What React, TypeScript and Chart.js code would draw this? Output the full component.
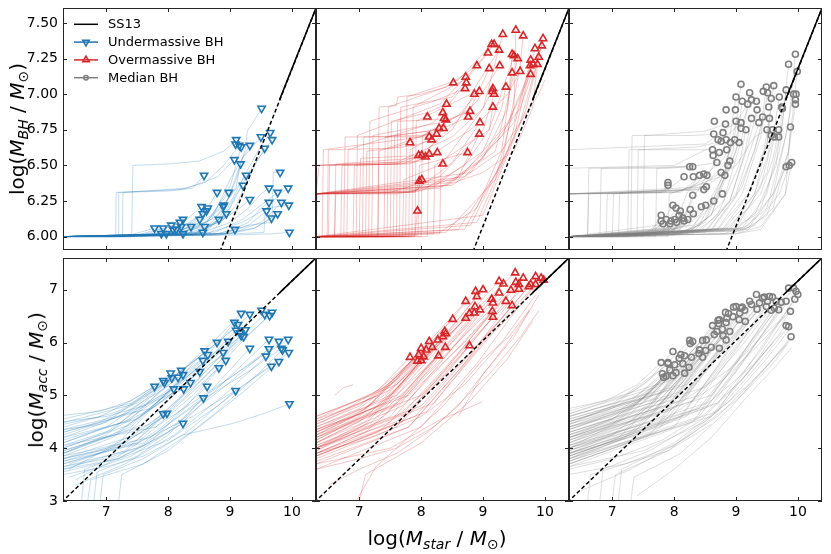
import React, { useEffect, useRef } from "react";
import { Chart, registerables } from "chart.js";
Chart.register(...registerables);

// ---------- axes ----------
const X_TICKS = [7, 8, 9, 10];
const BH_TICKS = [6.0, 6.25, 6.5, 6.75, 7.0, 7.25, 7.5];
const ACC_TICKS = [3, 4, 5, 6, 7];
const X_MIN = 6.3, X_MAX = 10.39;
const BH_MIN = 5.906, BH_MAX = 7.605;
const ACC_MIN = 3.0, ACC_MAX = 7.6;

// ---------- SS13 relation (x,y pairs) ----------
const SS13_BH_DASHED = [8.76, 5.81, 10.45, 7.67];
const SS13_BH_SOLID = [9.8, 6.96, 10.45, 7.67];
const SS13_ACC_DASHED = [6.2, 2.89, 10.45, 7.67];
const SS13_ACC_SOLID = [9.8, 6.94, 10.45, 7.67];

const LEGEND_LABELS = ["SS13", "Undermassive BH", "Overmassive BH", "Median BH"];

const BLUE = "#1f77b4", RED = "#d62728", GRAY = "#7f7f7f";
const BLUE_T = "rgba(31,119,180,0.33)", RED_T = "rgba(214,39,40,0.33)", GRAY_T = "rgba(127,127,127,0.33)";

// ---------- markers (x,y pairs) ----------
const BLUE_BH_PTS = [9.51,6.90, 9.10,6.68, 9.15,6.64, 9.09,6.65, 9.18,6.63, 9.32,6.64, 9.50,6.70, 9.65,6.73, 9.68,6.68, 9.56,6.62,
  9.07,6.54, 9.17,6.51, 8.58,6.43, 9.26,6.43, 9.81,6.45, 9.21,6.36, 8.79,6.31, 8.98,6.31, 9.63,6.34, 9.94,6.34,
  9.77,6.31, 9.32,6.26, 8.90,6.22, 9.63,6.24, 9.83,6.24, 9.95,6.22, 8.94,6.16, 8.82,6.12, 9.59,6.18, 9.67,6.13,
  9.77,6.16, 9.08,6.05, 9.96,6.03, 8.64,6.20, 8.62,6.18, 8.56,6.16, 8.51,6.12, 8.59,6.07, 8.56,6.03, 8.24,6.12,
  8.24,6.02, 8.37,6.07, 7.78,6.06, 7.92,6.06, 8.05,6.08, 7.89,6.02, 7.97,6.02, 8.08,6.05, 8.19,6.10, 8.21,6.07,
  8.13,6.05, 8.54,6.21, 8.89,6.21];
const BLUE_ACC_PTS = [9.18,6.55, 9.32,6.53, 9.51,6.61, 9.56,6.53, 9.68,6.57, 9.64,6.51, 9.07,6.38, 9.13,6.34, 9.10,6.23, 9.25,6.24,
  9.18,6.13, 9.16,6.18, 9.22,6.11, 8.79,6.00, 8.97,6.02, 9.63,6.06, 9.79,6.02, 9.94,6.06, 9.32,5.89, 9.63,5.88,
  9.83,5.89, 9.85,5.86, 9.95,5.81, 8.59,5.84, 8.64,5.77, 8.89,5.81, 9.58,5.74, 9.79,5.64, 9.67,5.55, 8.93,5.66,
  8.56,5.66, 8.82,5.52, 8.51,5.45, 8.21,5.47, 8.04,5.42, 8.24,5.39, 8.06,5.33, 8.16,5.34, 7.92,5.28, 7.94,5.24,
  7.78,5.17, 8.36,5.24, 8.09,5.12, 8.25,5.12, 8.63,5.17, 9.09,5.09, 8.57,4.95, 9.96,4.84, 7.92,4.65, 7.98,4.66,
  8.24,4.47];
const RED_BH_PTS = [9.53,7.45, 9.32,7.42, 9.65,7.41, 9.97,7.39, 9.18,7.35, 9.14,7.35, 9.26,7.31, 9.08,7.29, 9.84,7.32, 9.95,7.34,
  9.47,7.28, 9.50,7.27, 9.56,7.25, 9.90,7.26, 9.77,7.24, 9.81,7.21, 9.76,7.20, 9.88,7.21, 8.90,7.20, 9.10,7.18,
  9.27,7.20, 9.47,7.15, 9.60,7.16, 9.77,7.14, 8.72,7.12, 8.73,7.08, 8.71,7.04, 8.52,7.08, 9.37,7.05, 9.16,7.04,
  9.15,7.02, 9.18,7.00, 8.94,7.02, 8.86,7.00, 9.16,6.91, 8.41,6.93, 8.10,6.84, 8.35,6.87, 8.37,6.83, 8.40,6.82,
  8.79,6.88, 8.76,6.84, 8.95,6.80, 8.29,6.76, 8.36,6.76, 8.13,6.70, 8.17,6.68, 8.25,6.72, 8.94,6.72, 7.82,6.66,
  7.96,6.57, 8.01,6.57, 8.07,6.56, 8.13,6.58, 8.26,6.59, 8.35,6.51, 8.75,6.59, 7.97,6.39, 8.01,6.40, 7.94,6.18];
const RED_ACC_PTS = [9.52,7.32, 9.65,7.22, 9.85,7.25, 9.94,7.22, 9.98,7.18, 9.26,7.16, 9.33,7.11, 9.53,7.14, 9.58,7.10, 9.77,7.10,
  9.74,7.06, 9.85,7.10, 9.45,6.99, 9.58,7.01, 8.88,6.97, 9.00,7.00, 8.90,6.87, 9.26,6.94, 9.14,6.82, 9.16,6.75,
  9.37,6.78, 8.72,6.78, 8.87,6.68, 8.95,6.62, 8.86,6.56, 8.78,6.55, 9.15,6.59, 9.16,6.48, 9.47,6.70, 8.72,6.46,
  8.51,6.44, 8.38,6.21, 8.35,6.11, 8.40,6.17, 8.27,6.05, 8.13,6.02, 8.18,5.91, 8.00,5.89, 8.08,5.86, 7.96,5.77,
  8.04,5.73, 7.82,5.72, 8.00,5.66, 8.28,5.75, 8.39,5.91, 8.78,5.94, 7.94,5.65];
const GRAY_BH_PTS = [9.96,7.28, 9.85,7.21, 9.99,7.16, 9.08,7.07, 9.49,7.05, 9.61,7.06, 9.81,7.03, 9.22,7.01, 9.44,7.02, 9.51,7.01,
  9.93,7.00, 9.97,7.00, 9.00,6.98, 9.25,6.96, 9.57,6.97, 9.70,6.98, 9.10,6.95, 9.33,6.95, 9.19,6.93, 9.96,6.96,
  9.96,6.93, 9.53,6.91, 9.74,6.91, 8.84,6.89, 8.99,6.89, 9.34,6.89, 9.75,6.90, 9.43,6.84, 9.54,6.83, 9.25,6.83,
  8.65,6.81, 9.00,6.81, 9.08,6.80, 8.83,6.79, 9.37,6.80, 9.88,6.77, 9.08,6.76, 9.16,6.75, 9.50,6.75, 9.59,6.75,
  9.69,6.75, 8.64,6.72, 8.79,6.73, 9.57,6.71, 9.62,6.70, 9.69,6.70, 8.71,6.68, 8.76,6.67, 8.84,6.68, 8.98,6.68,
  9.05,6.66, 8.91,6.66, 8.62,6.61, 8.85,6.61, 8.63,6.57, 8.73,6.59, 8.90,6.53, 8.69,6.52, 8.87,6.50, 8.25,6.49,
  8.30,6.49, 8.76,6.45, 8.82,6.43, 8.16,6.42, 8.31,6.42, 8.41,6.43, 8.48,6.44, 8.53,6.43, 7.90,6.38, 7.90,6.36,
  8.52,6.35, 8.48,6.33, 8.30,6.29, 8.78,6.30, 8.64,6.25, 8.51,6.22, 8.44,6.21, 7.98,6.22, 8.03,6.20, 8.10,6.18,
  8.26,6.19, 7.79,6.15, 8.08,6.15, 8.14,6.13, 8.31,6.16, 7.79,6.11, 7.87,6.12, 7.95,6.11, 8.01,6.12, 8.04,6.10,
  8.16,6.11, 8.22,6.12, 7.82,6.09, 7.93,6.09, 9.81,6.49, 9.86,6.50, 9.90,6.52];
const GRAY_ACC_PTS = [9.85,7.03, 9.93,7.03, 9.97,6.97, 10.00,6.91, 9.95,6.82, 9.33,6.91, 9.46,6.86, 9.54,6.87, 9.59,6.86, 9.51,6.78,
  9.65,6.78, 9.73,6.76, 9.81,6.78, 9.22,6.78, 9.25,6.72, 9.38,6.75, 9.49,6.68, 9.62,6.65, 9.69,6.62, 9.57,6.61,
  9.00,6.68, 9.08,6.65, 9.14,6.61, 9.06,6.56, 9.34,6.63, 9.88,6.59, 8.83,6.57, 8.88,6.55, 8.95,6.49, 8.85,6.46,
  8.73,6.43, 9.05,6.43, 9.15,6.40, 8.84,6.38, 8.72,6.36, 8.62,6.32, 9.81,6.32, 9.85,6.30, 9.89,6.11, 8.78,6.25,
  8.69,6.21, 8.90,6.21, 8.65,6.15, 8.79,6.13, 8.84,6.05, 8.25,6.04, 8.30,6.02, 8.46,6.04, 8.52,6.05, 8.26,5.98,
  8.60,5.91, 8.73,5.89, 8.41,5.86, 8.51,5.85, 7.98,5.83, 8.40,5.79, 8.46,5.72, 8.17,5.75, 8.28,5.72, 8.08,5.70,
  8.11,5.77, 7.79,5.62, 7.90,5.60, 8.01,5.58, 8.14,5.60, 8.24,5.53, 7.93,5.48, 8.03,5.43, 7.81,5.41, 7.83,5.34,
  8.17,5.42, 7.98,5.37, 7.87,5.36, 8.71,6.42, 9.43,6.84, 8.96,6.67, 9.10,6.67, 7.90,5.62];

// ---------- growth tracks (x,y pairs) ----------
const BLUE_BH_TRACKS = [
  [6.3,6.0, 7.41,6.0, 7.43,6.5, 8.0,6.51, 8.5,6.53, 8.9,6.6, 9.1,6.68],
  [6.3,6.0, 7.19,6.0, 7.2,6.31, 8.0,6.32, 8.4,6.34, 8.58,6.43],
  [6.3,6.0, 7.15,6.0, 7.16,6.31, 8.2,6.33, 8.6,6.38, 8.9,6.5, 9.15,6.64],
  [6.3,6.0, 7.26,6.0, 7.27,6.31, 8.3,6.34, 8.8,6.42, 9.07,6.54],
  [6.3,6.0, 8.2,6.01, 8.6,6.05, 8.9,6.2, 9.1,6.4, 9.25,6.62, 9.28,6.74, 9.51,6.9],
  [6.3,6.0, 8.4,6.01, 8.8,6.1, 9.0,6.3, 9.2,6.55, 9.5,6.7],
  [6.3,6.0, 8.5,6.02, 8.9,6.15, 9.2,6.4, 9.45,6.6, 9.65,6.73],
  [6.3,6.0, 8.6,6.03, 9.0,6.2, 9.3,6.45, 9.68,6.68],
  [6.3,6.0, 8.7,6.03, 9.1,6.22, 9.4,6.5, 9.56,6.62],
  [6.3,6.0, 8.0,6.01, 8.6,6.08, 9.0,6.35, 9.18,6.63],
  [6.3,6.0, 8.2,6.02, 8.7,6.12, 9.0,6.4, 9.32,6.64],
  [6.3,6.0, 8.3,6.02, 8.8,6.15, 9.1,6.35, 9.17,6.51],
  [6.3,6.0, 8.0,6.02, 8.6,6.1, 9.0,6.28, 9.26,6.43],
  [6.3,6.0, 8.4,6.02, 8.9,6.12, 9.1,6.3, 9.21,6.36],
  [6.3,6.0, 8.1,6.02, 8.5,6.1, 8.79,6.31],
  [6.3,6.0, 8.2,6.02, 8.7,6.15, 8.98,6.31],
  [6.3,6.0, 8.5,6.02, 9.0,6.1, 9.3,6.2, 9.5,6.3, 9.63,6.34],
  [6.3,6.0, 8.8,6.02, 9.3,6.08, 9.68,6.1, 9.7,6.45, 9.81,6.45],
  [6.3,6.0, 8.6,6.02, 9.2,6.1, 9.6,6.2, 9.8,6.3, 9.94,6.34],
  [6.3,6.0, 8.7,6.02, 9.2,6.12, 9.5,6.22, 9.77,6.31],
  [6.3,6.0, 8.3,6.02, 8.8,6.1, 9.1,6.18, 9.32,6.26],
  [6.3,6.0, 8.2,6.02, 8.6,6.1, 8.9,6.22],
  [6.3,6.0, 8.9,6.02, 9.3,6.1, 9.5,6.2, 9.63,6.24],
  [6.3,6.0, 9.0,6.02, 9.5,6.1, 9.7,6.18, 9.83,6.24],
  [6.3,6.0, 9.1,6.02, 9.55,6.03, 9.57,6.2, 9.95,6.22],
  [6.3,6.0, 8.5,6.01, 8.94,6.16],
  [6.3,6.0, 8.4,6.01, 8.82,6.12],
  [6.3,6.0, 8.9,6.02, 9.3,6.08, 9.59,6.18],
  [6.3,6.0, 9.0,6.02, 9.4,6.06, 9.67,6.13],
  [6.3,6.0, 8.8,6.01, 9.4,6.06, 9.77,6.16],
  [6.3,6.0, 8.7,6.01, 9.08,6.05],
  [6.3,6.0, 9.0,6.01, 9.7,6.02, 9.96,6.03],
  [6.3,6.0, 8.0,6.02, 8.4,6.1, 8.64,6.2],
  [6.3,6.0, 7.9,6.02, 8.3,6.08, 8.62,6.18],
  [6.3,6.0, 8.0,6.01, 8.56,6.16],
  [6.3,6.0, 7.6,6.0, 8.2,6.04, 8.51,6.12],
  [6.3,6.0, 7.8,6.0, 8.2,6.03, 8.59,6.07],
  [6.3,6.0, 7.5,6.0, 7.9,6.02, 8.24,6.12],
  [6.3,6.0, 7.3,6.0, 7.78,6.06],
  [6.3,6.0, 7.4,6.0, 7.92,6.06],
  [6.3,6.0, 7.6,6.01, 8.05,6.08],
  [6.3,6.0, 7.7,6.01, 8.19,6.1],
  [6.3,6.0, 7.9,6.01, 8.37,6.07],
  [6.3,6.0, 8.0,6.01, 8.54,6.21],
];
const BLUE_ACC_TRACKS = [
  [6.3,4.62, 6.9,4.7, 7.4,4.9, 7.78,5.17],
  [6.3,4.45, 6.9,4.6, 7.4,4.9, 7.92,5.28],
  [6.3,4.3, 6.9,4.5, 7.4,4.8, 7.94,5.24],
  [6.3,4.2, 7.0,4.5, 7.5,4.9, 8.04,5.42],
  [6.3,4.1, 7.0,4.4, 7.5,4.8, 8.06,5.33],
  [6.3,4.0, 7.0,4.3, 7.6,4.8, 8.16,5.34],
  [6.3,3.9, 7.0,4.25, 7.6,4.85, 8.21,5.47],
  [6.3,4.35, 6.9,4.45, 7.5,4.75, 8.09,5.12],
  [6.3,3.8, 7.0,4.0, 7.5,4.3, 7.92,4.65],
  [6.3,3.7, 7.0,3.95, 7.5,4.25, 7.98,4.66],
  [6.3,3.65, 7.0,3.8, 7.6,4.05, 8.24,4.47],
  [6.3,4.5, 7.0,4.6, 7.6,4.8, 8.25,5.12],
  [6.3,4.05, 7.1,4.35, 7.8,4.8, 8.36,5.24],
  [6.3,3.95, 7.1,4.25, 7.8,4.8, 8.51,5.45],
  [6.3,3.85, 7.1,4.2, 7.8,4.85, 8.56,5.66],
  [6.4,3.6, 7.2,4.1, 7.9,4.95, 8.59,5.84],
  [6.3,4.25, 7.2,4.6, 7.9,5.1, 8.64,5.77],
  [6.6,3.0, 6.65,3.6, 7.2,3.85, 7.9,4.4, 8.63,5.17],
  [6.8,3.0, 6.85,3.55, 7.5,3.85, 8.0,4.25, 8.57,4.95],
  [6.3,3.75, 7.3,4.1, 8.0,4.65, 8.82,5.52],
  [6.3,3.6, 7.3,3.95, 8.0,4.7, 8.89,5.81],
  [6.3,4.4, 7.2,4.7, 8.0,5.25, 8.79,6.00],
  [6.5,3.4, 7.0,3.7, 7.7,4.1, 8.3,4.8, 8.93,5.66],
  [6.3,4.15, 7.3,4.5, 8.1,5.15, 8.97,6.02],
  [6.9,3.0, 6.95,3.5, 7.6,3.8, 8.3,4.3, 9.09,5.09],
  [6.3,3.9, 7.4,4.4, 8.2,5.3, 8.7,5.85, 9.07,6.38],
  [6.3,4.55, 7.4,4.85, 8.2,5.45, 8.7,5.9, 9.13,6.34],
  [6.3,4.0, 7.4,4.45, 8.2,5.25, 8.7,5.75, 9.10,6.23],
  [6.4,3.7, 7.5,4.15, 8.3,5.0, 8.8,5.6, 9.18,6.13],
  [6.3,4.35, 7.5,4.7, 8.3,5.35, 8.8,5.8, 9.16,6.18],
  [6.3,3.8, 7.6,4.3, 8.4,5.2, 8.9,5.8, 9.25,6.24],
  [6.3,4.2, 7.5,4.55, 8.3,5.25, 8.8,5.7, 9.22,6.11],
  [6.3,4.1, 7.4,4.55, 8.2,5.45, 8.8,6.1, 9.18,6.55],
  [6.3,4.48, 7.5,4.85, 8.3,5.55, 8.9,6.1, 9.32,6.53],
  [6.3,3.9, 7.6,4.45, 8.4,5.35, 9.0,6.05, 9.50,6.61],
  [6.3,4.3, 7.7,4.75, 8.5,5.5, 9.1,6.05, 9.56,6.53],
  [6.3,3.7, 7.5,4.1, 8.4,5.0, 9.1,5.9, 9.68,6.57],
  [6.3,3.95, 7.7,4.45, 8.5,5.25, 9.1,5.95, 9.64,6.51],
  [6.3,3.55, 7.2,3.8, 8.0,4.3, 8.7,5.1, 9.32,5.89],
  [6.4,3.45, 7.4,3.85, 8.2,4.45, 8.9,5.25, 9.63,6.06],
  [6.3,3.65, 7.5,4.0, 8.3,4.6, 9.0,5.25, 9.63,5.88],
  [6.5,3.3, 7.3,3.7, 8.1,4.25, 8.9,5.0, 9.58,5.74],
  [6.3,3.8, 7.5,4.1, 8.4,4.6, 9.1,5.1, 9.67,5.55],
  [6.7,3.0, 6.75,3.4, 7.6,3.7, 8.5,4.4, 9.2,5.05, 9.79,5.64],
  [6.3,3.75, 7.6,4.1, 8.5,4.9, 9.2,5.5, 9.79,6.02],
  [6.3,3.85, 7.7,4.2, 8.6,4.95, 9.3,5.45, 9.83,5.89],
  [6.3,4.05, 7.8,4.4, 8.7,5.1, 9.4,5.65, 9.94,6.06],
  [6.3,3.6, 7.2,3.8, 8.0,4.15, 8.8,4.8, 9.4,5.35, 9.95,5.81],
  [6.3,3.5, 7.0,3.65, 7.6,3.85, 8.24,4.25, 9.05,4.47, 9.56,4.66, 9.96,4.84],
  [7.2,3.0, 7.25,3.5, 8.0,3.95, 8.8,4.7, 9.4,5.35, 9.85,5.86],
];
const RED_BH_TRACKS = [
  [6.3,6.0, 6.32,6.3, 7.6,6.3, 7.95,6.33, 8.01,6.40],
  [6.3,6.3, 7.9,6.31, 7.97,6.39],
  [6.3,6.0, 6.6,6.0, 6.62,6.3, 7.8,6.31, 8.4,6.36, 9.0,6.45, 9.5,6.6, 9.8,6.9, 9.88,7.21],
  [6.3,6.0, 7.9,6.01, 7.92,6.1, 7.94,6.18],
  [6.3,6.3, 6.35,6.5, 7.5,6.51, 7.9,6.52, 8.13,6.58],
  [6.3,6.0, 6.5,6.0, 6.52,6.5, 7.8,6.51, 8.07,6.56],
  [6.3,6.0, 6.7,6.0, 6.72,6.5, 7.7,6.51, 8.01,6.57],
  [6.3,6.0, 6.9,6.0, 6.92,6.5, 7.6,6.51, 7.96,6.57],
  [6.3,6.0, 6.48,6.0, 6.5,6.61, 7.5,6.62, 7.82,6.66],
  [6.3,6.0, 6.75,6.0, 6.77,6.7, 7.8,6.7, 8.13,6.70],
  [6.3,6.0, 7.0,6.0, 7.02,6.55, 8.0,6.57, 8.26,6.59],
  [6.3,6.0, 7.1,6.0, 7.12,6.6, 7.9,6.64, 8.17,6.68],
  [6.3,6.0, 7.05,6.0, 7.07,6.7, 8.0,6.71, 8.25,6.72],
  [6.3,6.0, 7.3,6.0, 7.32,6.91, 7.6,6.92, 7.62,6.98, 8.0,7.0, 8.4,7.05, 8.52,7.08],
  [6.3,6.0, 7.4,6.0, 7.42,6.7, 8.1,6.74, 8.35,6.76],
  [6.3,6.0, 7.5,6.0, 7.52,6.81, 8.1,6.87, 8.41,6.93],
  [6.3,6.0, 7.55,6.0, 7.57,6.71, 8.1,6.74, 8.29,6.76],
  [6.3,6.0, 7.6,6.0, 7.62,6.81, 8.2,6.82, 8.37,6.83],
  [6.3,6.0, 7.7,6.0, 7.72,6.4, 8.0,6.45, 8.35,6.51],
  [6.3,6.0, 7.8,6.0, 7.82,6.61, 8.3,6.72, 8.4,6.82],
  [6.3,6.0, 7.95,6.01, 7.97,6.5, 8.4,6.55, 8.75,6.59],
  [6.3,6.0, 7.3,6.0, 7.32,6.6, 8.3,6.75, 8.76,6.84],
  [6.3,6.0, 7.2,6.0, 7.22,6.71, 8.3,6.8, 8.79,6.88],
  [6.3,6.0, 7.15,6.0, 7.17,6.81, 8.2,6.95, 8.71,7.04],
  [6.3,6.0, 6.8,6.0, 6.82,6.61, 8.2,6.8, 8.73,7.08],
  [6.3,6.0, 6.95,6.0, 6.97,6.71, 8.3,6.93, 8.72,7.12],
  [6.3,6.0, 7.45,6.0, 7.47,6.91, 8.4,7.05, 8.90,7.2],
  [6.3,6.3, 7.8,6.31, 8.6,6.42, 8.94,6.72],
  [6.3,6.3, 7.9,6.32, 8.5,6.52, 8.95,6.80],
  [6.3,6.0, 6.6,6.0, 6.62,6.51, 7.9,6.55, 8.5,6.75, 8.86,7.0],
  [6.3,6.0, 6.4,6.0, 6.42,6.61, 8.0,6.7, 8.6,6.85, 8.94,7.02],
  [6.3,6.0, 7.65,6.0, 7.67,6.91, 8.5,6.98, 9.08,7.29],
  [6.3,6.0, 7.75,6.0, 7.77,6.98, 8.6,7.1, 9.14,7.35],
  [6.3,6.0, 7.85,6.0, 7.87,6.91, 8.7,7.1, 9.18,7.35],
  [6.3,6.0, 7.9,6.0, 7.92,6.81, 8.8,7.0, 9.26,7.31],
  [6.3,6.0, 8.0,6.0, 8.02,6.71, 8.8,6.9, 9.10,7.18],
  [6.3,6.5, 7.6,6.52, 8.5,6.7, 9.0,6.9, 9.16,7.04],
  [6.3,6.3, 7.5,6.31, 8.3,6.42, 9.0,6.75, 9.18,7.0],
  [6.3,6.3, 8.0,6.32, 8.7,6.5, 9.1,6.75, 9.16,6.91],
  [6.3,6.0, 8.1,6.0, 8.12,6.62, 8.9,6.95, 9.27,7.2],
  [6.3,6.0, 8.3,6.02, 8.32,6.5, 9.0,6.9, 9.32,7.42],
  [6.3,6.3, 8.2,6.35, 9.0,6.6, 9.3,6.9, 9.37,7.05],
  [6.3,6.0, 8.3,6.03, 8.9,6.2, 9.3,6.6, 9.47,7.15],
  [6.3,6.3, 8.3,6.34, 9.0,6.55, 9.4,6.9, 9.47,7.28],
  [6.3,6.0, 8.2,6.02, 8.22,6.5, 9.1,6.75, 9.5,7.27],
  [6.3,6.0, 8.4,6.03, 9.2,6.4, 9.5,6.9, 9.53,7.45],
  [6.3,6.3, 8.4,6.36, 9.2,6.6, 9.56,7.25],
  [6.3,6.5, 8.0,6.53, 8.8,6.75, 9.4,7.0, 9.60,7.16],
  [6.3,6.0, 8.6,6.05, 9.3,6.5, 9.6,7.2, 9.65,7.41],
  [6.3,6.3, 8.5,6.38, 9.3,6.7, 9.77,7.14],
  [6.3,6.0, 8.7,6.05, 9.4,6.6, 9.76,7.2],
  [6.3,6.3, 8.6,6.4, 9.4,6.8, 9.81,7.21],
  [6.3,6.0, 8.8,6.08, 9.5,6.7, 9.84,7.32],
  [6.3,6.3, 8.7,6.42, 9.5,6.8, 9.77,7.24],
  [6.3,6.0, 8.9,6.1, 9.6,6.8, 9.9,7.26],
  [6.3,6.3, 8.8,6.45, 9.6,6.9, 9.95,7.34],
  [6.3,6.0, 9.0,6.15, 9.7,6.9, 9.97,7.39],
  [6.3,6.3, 8.5,6.36, 9.3,6.6, 9.9,7.0, 10.0,7.1],
];
const RED_ACC_TRACKS = [
  [6.3,4.55, 6.8,4.75, 7.3,5.1, 7.82,5.72],
  [6.3,4.35, 6.9,4.6, 7.4,5.0, 7.94,5.65],
  [6.3,4.45, 7.0,4.8, 7.5,5.25, 7.96,5.77],
  [6.3,4.25, 7.0,4.65, 7.6,5.3, 8.0,5.89],
  [6.3,4.1, 7.0,4.5, 7.6,5.1, 8.04,5.73],
  [6.3,4.4, 7.0,4.75, 7.6,5.3, 8.08,5.86],
  [6.3,4.2, 7.0,4.6, 7.6,5.35, 8.13,6.02],
  [6.3,4.0, 7.1,4.5, 7.7,5.25, 8.18,5.91],
  [6.3,4.3, 7.1,4.75, 7.7,5.4, 8.27,6.05],
  [6.3,3.95, 7.1,4.45, 7.8,5.35, 8.35,6.11],
  [6.3,4.5, 7.2,4.95, 7.8,5.55, 8.38,6.21],
  [6.3,4.15, 7.2,4.7, 7.8,5.45, 8.40,6.17],
  [6.3,3.9, 7.1,4.3, 7.7,4.95, 8.28,5.75],
  [6.3,4.05, 7.2,4.5, 7.8,5.15, 8.39,5.91],
  [6.3,4.6, 7.2,5.0, 7.9,5.7, 8.51,6.44],
  [6.3,4.25, 7.3,4.8, 8.0,5.6, 8.72,6.46],
  [6.3,3.85, 7.3,4.3, 8.1,5.1, 8.78,5.94],
  [6.3,4.45, 7.3,5.0, 8.0,5.85, 8.72,6.78],
  [6.3,4.1, 7.4,4.75, 8.1,5.65, 8.78,6.55],
  [6.3,4.0, 7.4,4.6, 8.1,5.55, 8.86,6.56],
  [6.3,4.3, 7.4,4.85, 8.1,5.8, 8.87,6.68],
  [6.3,3.95, 7.5,4.6, 8.2,5.6, 8.95,6.62],
  [6.3,4.55, 7.5,5.2, 8.2,6.05, 8.88,6.97],
  [6.3,4.35, 7.5,5.0, 8.2,5.9, 9.0,7.0],
  [6.3,4.15, 7.4,4.8, 8.2,5.85, 8.90,6.87],
  [6.3,3.9, 7.5,4.5, 8.3,5.6, 9.14,6.82],
  [6.3,4.2, 7.6,4.8, 8.4,5.75, 9.16,6.75],
  [6.3,3.8, 7.6,4.4, 8.4,5.5, 9.15,6.59],
  [6.3,4.0, 7.6,4.5, 8.4,5.4, 9.16,6.48],
  [6.3,4.4, 7.6,5.0, 8.5,6.0, 9.26,6.94],
  [6.3,4.6, 7.6,5.2, 8.5,6.2, 9.26,7.16],
  [6.3,4.3, 7.7,5.0, 8.5,6.05, 9.33,7.11],
  [6.3,3.85, 7.7,4.5, 8.6,5.7, 9.37,6.78],
  [6.3,4.1, 7.7,4.8, 8.6,5.9, 9.45,6.99],
  [6.3,3.75, 7.8,4.4, 8.7,5.6, 9.47,6.70],
  [6.3,4.5, 7.5,5.1, 8.4,6.1, 9.0,6.75, 9.52,7.32],
  [6.3,4.2, 7.6,4.85, 8.5,5.9, 9.1,6.6, 9.53,7.14],
  [6.3,4.0, 7.7,4.65, 8.6,5.8, 9.1,6.5, 9.58,7.10],
  [6.3,3.7, 7.8,4.4, 8.7,5.6, 9.2,6.4, 9.58,7.01],
  [6.3,4.35, 7.8,5.0, 8.7,6.0, 9.2,6.65, 9.65,7.22],
  [6.3,3.9, 7.9,4.6, 8.8,5.8, 9.3,6.45, 9.74,7.06],
  [6.3,4.05, 8.0,4.8, 8.9,5.95, 9.4,6.6, 9.77,7.10],
  [6.3,3.6, 8.0,4.4, 8.9,5.6, 9.4,6.4, 9.85,7.10],
  [6.3,4.25, 8.0,5.0, 8.9,6.15, 9.4,6.75, 9.85,7.25],
  [6.3,3.85, 8.1,4.7, 9.0,6.0, 9.5,6.65, 9.94,7.22],
  [6.3,4.0, 8.2,4.85, 9.1,6.1, 9.6,6.7, 9.98,7.18],
  [6.95,3.0, 7.27,3.65, 7.81,4.22, 8.35,4.79, 8.99,5.67, 9.42,6.11, 9.75,6.62],
  [6.5,3.3, 7.0,3.6, 7.6,3.9, 8.1,4.3, 8.35,4.55, 8.99,4.88],
  [8.6,4.6, 9.0,5.4, 9.4,6.0, 9.75,6.6],
  [6.3,3.6, 7.0,3.8, 7.6,4.0, 8.2,4.4, 8.6,4.8, 9.0,5.4, 9.5,6.1, 9.9,6.9],
  [6.6,5.0, 6.75,5.15, 6.9,5.2],
  [6.3,3.9, 7.2,4.2, 8.0,4.6, 8.7,5.2, 9.3,6.0, 9.85,6.9],
  [6.3,3.7, 7.5,4.0, 8.4,4.6, 9.1,5.4, 9.6,6.1, 9.9,6.6],
  [7.0,3.0, 7.1,3.5, 8.0,4.1, 8.8,4.9, 9.4,5.7, 9.8,6.4],
];
const GRAY_BH_TRACKS = [
  [6.3,6.0, 7.5,6.01, 7.79,6.11],
  [6.3,6.0, 7.6,6.01, 7.87,6.12],
  [6.3,6.0, 7.7,6.01, 7.95,6.11],
  [6.3,6.0, 7.5,6.01, 7.82,6.09],
  [6.3,6.0, 7.8,6.02, 8.01,6.12],
  [6.3,6.0, 7.8,6.02, 8.04,6.10],
  [6.3,6.0, 7.9,6.02, 8.16,6.11],
  [6.3,6.0, 7.9,6.02, 8.22,6.12],
  [6.3,6.0, 7.6,6.01, 7.79,6.15],
  [6.3,6.0, 7.8,6.03, 8.08,6.15],
  [6.3,6.0, 7.9,6.04, 8.14,6.13],
  [6.3,6.0, 8.0,6.04, 8.31,6.16],
  [6.3,6.0, 7.7,6.02, 7.98,6.22],
  [6.3,6.0, 7.8,6.03, 8.03,6.20],
  [6.3,6.0, 8.0,6.05, 8.26,6.19],
  [6.3,6.0, 8.1,6.05, 8.44,6.21],
  [6.3,6.0, 8.1,6.06, 8.51,6.22],
  [6.3,6.0, 8.2,6.07, 8.64,6.25],
  [6.3,6.0, 8.3,6.08, 8.78,6.30],
  [6.3,6.0, 8.1,6.06, 8.30,6.29],
  [6.3,6.3, 7.85,6.31, 7.90,6.38],
  [6.3,6.0, 6.6,6.0, 6.62,6.3, 7.8,6.31, 7.90,6.36],
  [6.3,6.0, 6.9,6.0, 6.92,6.3, 8.0,6.32, 8.48,6.33],
  [6.3,6.0, 7.1,6.0, 7.12,6.31, 8.2,6.33, 8.52,6.35],
  [6.3,6.0, 6.6,6.0, 6.62,6.48, 7.9,6.48, 8.25,6.49],
  [6.3,6.0, 6.8,6.0, 6.82,6.48, 8.0,6.49, 8.30,6.49],
  [6.3,6.0, 7.0,6.0, 7.02,6.3, 7.9,6.33, 8.16,6.42],
  [6.3,6.0, 7.25,6.0, 7.27,6.61, 8.3,6.61, 8.62,6.61],
  [6.3,6.0, 7.3,6.0, 7.32,6.71, 8.3,6.71, 8.64,6.72],
  [6.3,6.0, 7.4,6.0, 7.42,6.61, 8.4,6.63, 8.76,6.67],
  [6.3,6.0, 7.5,6.0, 7.52,6.71, 8.5,6.74, 8.83,6.79],
  [6.3,6.0, 7.7,6.0, 7.72,6.48, 8.4,6.5, 8.69,6.52],
  [6.3,6.0, 7.9,6.0, 7.92,6.3, 8.5,6.38, 8.76,6.45],
  [6.3,6.3, 8.2,6.33, 8.6,6.4, 8.82,6.43],
  [6.3,6.0, 7.9,6.01, 8.3,6.06, 8.7,6.35, 8.87,6.50],
  [6.3,6.0, 8.0,6.01, 8.4,6.08, 8.8,6.4, 8.91,6.66],
  [6.3,6.3, 8.0,6.31, 8.3,6.35, 8.8,6.55, 8.98,6.68],
  [6.3,6.0, 8.1,6.02, 8.5,6.1, 8.9,6.5, 9.05,6.66],
  [6.3,6.0, 8.1,6.02, 8.5,6.12, 8.85,6.5, 9.00,6.81],
  [6.3,6.3, 8.1,6.32, 8.5,6.4, 8.9,6.7, 9.00,6.98],
  [6.3,6.48, 8.0,6.5, 8.7,6.65, 9.08,6.80],
  [6.3,6.0, 8.2,6.02, 8.6,6.15, 8.95,6.6, 9.08,7.07],
  [6.3,6.0, 8.2,6.02, 8.6,6.15, 9.0,6.6, 9.10,6.95],
  [6.3,6.0, 8.3,6.02, 8.7,6.15, 9.05,6.5, 9.16,6.75],
  [6.3,6.61, 8.5,6.65, 9.0,6.8, 9.19,6.93],
  [6.3,6.0, 8.3,6.03, 8.8,6.25, 9.1,6.7, 9.22,7.01],
  [6.3,6.3, 8.4,6.33, 8.8,6.5, 9.1,6.8, 9.25,6.96],
  [6.3,6.0, 8.4,6.03, 8.9,6.25, 9.15,6.6, 9.25,6.83],
  [6.3,6.0, 8.5,6.03, 8.9,6.25, 9.2,6.65, 9.34,6.89],
  [6.3,6.0, 8.5,6.04, 9.0,6.3, 9.3,6.7, 9.37,6.80],
  [6.3,6.0, 8.6,6.04, 9.0,6.28, 9.3,6.6, 9.43,6.84],
  [6.3,6.0, 8.6,6.05, 9.1,6.35, 9.4,6.75, 9.49,7.05],
  [6.3,6.3, 8.5,6.35, 9.0,6.5, 9.3,6.7, 9.50,6.75],
  [6.3,6.0, 8.7,6.05, 9.1,6.3, 9.4,6.7, 9.51,7.01],
  [6.3,6.0, 8.7,6.05, 9.2,6.3, 9.45,6.6, 9.54,6.83],
  [6.3,6.0, 8.8,6.06, 9.2,6.3, 9.5,6.65, 9.57,6.97],
  [6.3,6.0, 8.8,6.05, 9.3,6.3, 9.5,6.55, 9.59,6.75],
  [6.3,6.0, 8.8,6.04, 9.2,6.2, 9.5,6.45, 9.62,6.70],
  [6.3,6.0, 8.9,6.06, 9.3,6.3, 9.5,6.65, 9.61,7.06],
  [6.3,6.0, 8.9,6.05, 9.4,6.3, 9.6,6.55, 9.69,6.75],
  [6.3,6.0, 9.0,6.06, 9.4,6.35, 9.6,6.7, 9.70,6.98],
  [6.3,6.0, 8.9,6.04, 9.3,6.15, 9.65,6.5, 9.75,6.90],
  [6.3,6.0, 9.0,6.05, 9.4,6.2, 9.7,6.6, 9.81,7.03],
  [6.3,6.0, 9.1,6.06, 9.5,6.3, 9.75,6.8, 9.85,7.21],
  [6.3,6.0, 9.1,6.05, 9.5,6.2, 9.8,6.7, 9.93,7.00],
  [6.3,6.0, 9.2,6.06, 9.6,6.3, 9.85,6.8, 9.96,7.28],
  [6.3,6.0, 9.2,6.05, 9.6,6.2, 9.85,6.6, 9.96,6.93],
  [6.3,6.0, 9.1,6.04, 9.5,6.15, 9.85,6.6, 9.99,7.16],
  [6.3,6.0, 8.8,6.02, 9.2,6.08, 9.6,6.3, 9.81,6.49],
  [6.3,6.0, 8.9,6.02, 9.3,6.08, 9.7,6.3, 9.86,6.50],
  [6.3,6.0, 9.0,6.02, 9.4,6.07, 9.8,6.3, 9.90,6.52],
  [6.3,6.0, 9.0,6.02, 9.4,6.05, 9.8,6.3, 9.88,6.77],
  [6.3,6.0, 8.0,6.05, 8.2,6.3, 8.41,6.43],
  [6.3,6.3, 8.1,6.31, 8.3,6.38, 8.48,6.44],
  [6.3,6.0, 8.1,6.1, 8.35,6.3, 8.53,6.43],
];
const GRAY_ACC_TRACKS = [
  [6.3,4.75, 6.9,4.9, 7.4,5.2, 7.79,5.62],
  [6.3,4.5, 6.9,4.7, 7.4,5.0, 7.81,5.41],
  [6.3,4.4, 7.0,4.6, 7.4,4.9, 7.83,5.34],
  [6.3,4.3, 7.0,4.55, 7.5,4.95, 7.87,5.36],
  [6.3,4.6, 7.0,4.85, 7.5,5.2, 7.90,5.60],
  [6.3,4.1, 7.0,4.45, 7.5,4.95, 7.93,5.48],
  [6.3,4.45, 7.0,4.8, 7.6,5.3, 7.98,5.83],
  [6.3,3.9, 7.0,4.25, 7.6,4.8, 7.98,5.37],
  [6.3,4.2, 7.0,4.55, 7.6,5.05, 8.01,5.58],
  [6.3,3.8, 7.1,4.2, 7.6,4.75, 8.03,5.43],
  [6.3,4.35, 7.1,4.7, 7.7,5.2, 8.08,5.70],
  [6.3,4.0, 7.1,4.5, 7.7,5.2, 8.11,5.77],
  [6.3,4.25, 7.1,4.6, 7.7,5.1, 8.14,5.60],
  [6.3,3.85, 7.2,4.2, 7.8,4.85, 8.17,5.42],
  [6.3,4.15, 7.2,4.55, 7.8,5.2, 8.17,5.75],
  [6.3,3.95, 7.2,4.35, 7.8,4.95, 8.24,5.53],
  [6.3,4.65, 7.2,5.0, 7.8,5.5, 8.25,6.04],
  [6.3,4.05, 7.3,4.5, 7.9,5.15, 8.28,5.72],
  [6.3,4.5, 7.3,4.9, 7.9,5.45, 8.30,6.02],
  [6.3,3.75, 7.3,4.25, 8.0,5.05, 8.40,5.79],
  [6.3,4.2, 7.4,4.65, 8.0,5.3, 8.41,5.86],
  [6.3,3.9, 7.4,4.35, 8.0,5.05, 8.46,5.72],
  [6.3,4.4, 7.4,4.85, 8.0,5.5, 8.46,6.04],
  [6.3,4.0, 7.4,4.45, 8.1,5.2, 8.51,5.85],
  [6.3,4.55, 7.5,4.95, 8.1,5.5, 8.52,6.05],
  [6.3,3.85, 7.5,4.35, 8.1,5.1, 8.60,5.91],
  [6.3,4.35, 7.5,4.85, 8.2,5.7, 8.62,6.32],
  [6.3,4.1, 7.5,4.6, 8.2,5.45, 8.65,6.15],
  [6.3,4.3, 7.6,4.8, 8.2,5.5, 8.69,6.21],
  [6.3,4.45, 7.6,4.95, 8.3,5.75, 8.72,6.36],
  [6.3,3.7, 7.6,4.25, 8.3,5.2, 8.73,5.89],
  [6.3,4.6, 7.6,5.05, 8.3,5.85, 8.73,6.43],
  [6.3,4.0, 7.6,4.6, 8.3,5.55, 8.78,6.25],
  [6.3,3.8, 7.7,4.4, 8.3,5.35, 8.79,6.13],
  [6.3,4.4, 7.7,4.95, 8.4,5.9, 8.83,6.57],
  [6.3,4.2, 7.7,4.75, 8.4,5.7, 8.84,6.38],
  [6.3,3.75, 7.7,4.3, 8.4,5.3, 8.84,6.05],
  [6.3,4.25, 7.8,4.85, 8.4,5.8, 8.88,6.55],
  [6.3,3.95, 7.8,4.6, 8.5,5.7, 8.95,6.49],
  [6.3,4.5, 7.8,5.05, 8.5,5.95, 9.0,6.68],
  [6.3,3.85, 7.9,4.5, 8.6,5.6, 9.05,6.43],
  [6.3,4.15, 7.9,4.8, 8.6,5.85, 9.08,6.65],
  [6.3,3.7, 8.0,4.4, 8.7,5.55, 9.15,6.40],
  [6.3,4.35, 8.0,5.0, 8.7,6.0, 9.22,6.78],
  [6.3,4.05, 8.0,4.75, 8.7,5.85, 9.25,6.72],
  [6.3,3.9, 8.1,4.6, 8.8,5.7, 9.34,6.63],
  [6.3,4.6, 8.1,5.2, 8.8,6.1, 9.33,6.91],
  [6.3,4.2, 8.1,4.9, 8.8,5.9, 9.38,6.75],
  [6.3,4.3, 8.2,5.0, 8.9,6.0, 9.46,6.86],
  [6.3,3.8, 8.2,4.6, 8.9,5.7, 9.49,6.68],
  [6.3,4.45, 8.2,5.1, 9.0,6.1, 9.54,6.87],
  [6.3,3.65, 8.3,4.5, 9.0,5.6, 9.57,6.61],
  [6.3,4.1, 8.3,4.9, 9.0,5.95, 9.59,6.86],
  [6.3,3.95, 8.4,4.75, 9.1,5.8, 9.62,6.65],
  [6.3,4.25, 8.4,5.0, 9.1,5.95, 9.65,6.78],
  [6.3,3.75, 8.4,4.6, 9.1,5.6, 9.69,6.62],
  [6.3,4.0, 8.5,4.85, 9.2,5.9, 9.73,6.76],
  [6.3,3.85, 8.5,4.75, 9.2,5.8, 9.81,6.78],
  [6.3,4.4, 8.5,5.15, 9.2,6.2, 9.85,7.03],
  [6.3,4.15, 8.6,5.0, 9.3,6.1, 9.93,7.03],
  [6.3,3.9, 8.6,4.8, 9.3,5.95, 9.97,6.97],
  [6.3,3.7, 8.7,4.7, 9.4,5.9, 10.0,6.91],
  [6.3,4.05, 8.7,4.85, 9.4,5.85, 9.95,6.82],
  [6.3,3.8, 8.6,4.6, 9.3,5.6, 9.88,6.59],
  [6.8,3.0, 6.85,3.6, 7.6,3.95, 8.4,4.5, 9.1,5.3, 9.81,6.32],
  [7.0,3.0, 7.05,3.5, 7.9,3.95, 8.7,4.7, 9.3,5.5, 9.85,6.30],
  [7.3,3.0, 7.35,3.45, 8.1,3.9, 8.9,4.75, 9.5,5.55, 9.89,6.11],
  [7.4,3.1, 8.0,3.6, 8.6,4.2, 9.2,5.0, 9.6,5.5, 9.9,5.9],
  [6.3,3.6, 7.0,3.8, 7.8,4.15, 8.5,4.65, 9.1,5.3, 9.6,6.0],
  [6.3,3.5, 7.2,3.7, 8.0,4.05, 8.7,4.6, 9.3,5.3, 9.8,5.95],
  [6.6,3.0, 6.65,3.5, 7.2,3.7, 7.9,3.95, 8.6,4.45],
  [6.3,4.5, 8.2,5.2, 8.9,6.05, 9.51,6.78],
  [6.3,4.7, 8.0,5.3, 8.8,6.1, 9.43,6.84],
  [6.3,4.55, 7.9,5.1, 8.6,5.9, 9.06,6.56],
  [6.3,4.65, 7.7,5.15, 8.4,5.9, 8.85,6.46],
  [6.3,3.65, 7.5,3.95, 8.5,4.5, 9.2,5.2, 9.7,5.8, 9.9,6.1],
  [6.5,3.2, 7.3,3.6, 8.2,4.2, 9.0,4.9, 9.6,5.6, 9.85,6.0],
  [6.3,3.9, 7.6,4.3, 8.6,4.9, 9.3,5.6, 9.75,6.2],
  [6.3,4.0, 7.8,4.5, 8.8,5.3, 9.4,6.0, 9.8,6.5],
  [7.1,3.0, 7.15,3.6, 8.0,4.1, 8.9,4.9, 9.5,5.7, 9.9,6.3],
  [6.3,4.2, 7.9,4.7, 8.9,5.5, 9.5,6.2, 9.88,6.59],
];

// ---------- layout ----------
const FONT = '"DejaVu Sans", sans-serif';
const COL_LEFT = [63, 316, 569];
const PANEL_W = 253;

type Spec = { row: number; col: number; color: string; trackColor: string; marker: string; markers: number[]; tracks: number[][] };
const SPECS: Spec[] = [
  { row: 0, col: 0, color: BLUE, trackColor: BLUE_T, marker: "down", markers: BLUE_BH_PTS, tracks: BLUE_BH_TRACKS },
  { row: 0, col: 1, color: RED, trackColor: RED_T, marker: "up", markers: RED_BH_PTS, tracks: RED_BH_TRACKS },
  { row: 0, col: 2, color: GRAY, trackColor: GRAY_T, marker: "circle", markers: GRAY_BH_PTS, tracks: GRAY_BH_TRACKS },
  { row: 1, col: 0, color: BLUE, trackColor: BLUE_T, marker: "down", markers: BLUE_ACC_PTS, tracks: BLUE_ACC_TRACKS },
  { row: 1, col: 1, color: RED, trackColor: RED_T, marker: "up", markers: RED_ACC_PTS, tracks: RED_ACC_TRACKS },
  { row: 1, col: 2, color: GRAY, trackColor: GRAY_T, marker: "circle", markers: GRAY_ACC_PTS, tracks: GRAY_ACC_TRACKS },
];

const pairs = (a: number[]) => {
  const out: { x: number; y: number }[] = [];
  for (let i = 0; i + 1 < a.length; i += 2) out.push({ x: a[i], y: a[i + 1] });
  return out;
};

function drawMarker(ctx: CanvasRenderingContext2D, kind: string, x: number, y: number, r: number) {
  ctx.beginPath();
  if (kind === "circle") {
    ctx.arc(x, y, r, 0, Math.PI * 2);
  } else {
    const s = kind === "up" ? 1 : -1;
    const c = r * Math.cos(Math.PI / 6);
    ctx.moveTo(x, y - s * r);
    ctx.lineTo(x + c, y + (s * r) / 2);
    ctx.lineTo(x - c, y + (s * r) / 2);
    ctx.closePath();
  }
  ctx.stroke();
}

const framePlugin = {
  id: "frame",
  afterDatasetsDraw(chart: any, _args: any, opts: any) {
    const { ctx, chartArea: a, scales } = chart;
    ctx.save();
    ctx.strokeStyle = "#262626";
    ctx.lineWidth = 1;
    ctx.strokeRect(a.left + 0.5, a.top + 0.5, a.right - a.left - 1, a.bottom - a.top - 1);
    ctx.beginPath();
    X_TICKS.forEach((v) => {
      const px = Math.round(scales.x.getPixelForValue(v)) + 0.5;
      ctx.moveTo(px, a.top); ctx.lineTo(px, a.top + 4);
      ctx.moveTo(px, a.bottom); ctx.lineTo(px, a.bottom - 4);
    });
    (opts.yTicks as number[]).forEach((v) => {
      const py = Math.round(scales.y.getPixelForValue(v)) + 0.5;
      ctx.moveTo(a.left, py); ctx.lineTo(a.left + 4, py);
      ctx.moveTo(a.right, py); ctx.lineTo(a.right - 4, py);
    });
    ctx.stroke();
    ctx.restore();
  },
};

const legendPlugin = {
  id: "customLegend",
  afterDraw(chart: any) {
    const { ctx, chartArea: a } = chart;
    const colors = ["#000", BLUE, RED, GRAY];
    const kinds = ["", "down", "up", "circle"];
    ctx.save();
    ctx.font = `13px ${FONT}`;
    ctx.textBaseline = "middle";
    LEGEND_LABELS.forEach((label, i) => {
      const y = a.top + 16.3 + i * 17.8;
      ctx.strokeStyle = colors[i];
      ctx.lineWidth = 1.5;
      ctx.beginPath();
      ctx.moveTo(a.left + 11, y);
      ctx.lineTo(a.left + 35, y);
      ctx.stroke();
      if (kinds[i]) drawMarker(ctx, kinds[i], a.left + 23, y, kinds[i] === "circle" ? 2.2 : 3.8);
      ctx.fillStyle = "#000";
      ctx.fillText(label, a.left + 45, y + 0.5);
    });
    ctx.restore();
  },
};

function Panel({ spec }: { spec: Spec }) {
  const ref = useRef<HTMLCanvasElement>(null);
  const { row, col } = spec;
  const cx = col === 0 ? 0 : COL_LEFT[col];
  const cw = col === 0 ? COL_LEFT[0] + PANEL_W : PANEL_W;
  const cy = row === 0 ? 0 : 256;
  const ch = row === 0 ? 252 : 298;

  useEffect(() => {
    const yTicks = row === 0 ? BH_TICKS : ACC_TICKS;
    const dashed = row === 0 ? SS13_BH_DASHED : SS13_ACC_DASHED;
    const solid = row === 0 ? SS13_BH_SOLID : SS13_ACC_SOLID;
    const datasets: any[] = [
      { data: pairs(solid), showLine: true, borderColor: "#000", borderWidth: 1.5, pointRadius: 0, clip: 0 },
      { data: pairs(dashed), showLine: true, borderColor: "#000", borderWidth: 1.5, borderDash: [4, 2.5], pointRadius: 0, clip: 0 },
      {
        data: pairs(spec.markers), showLine: false,
        pointStyle: spec.marker === "circle" ? "circle" : "triangle",
        pointRotation: spec.marker === "down" ? 180 : 0,
        pointRadius: spec.marker === "circle" ? 3.0 : 4.2,
        pointBorderWidth: 1.6, pointBorderColor: spec.color, pointBackgroundColor: "rgba(0,0,0,0)",
        borderColor: spec.color, backgroundColor: "rgba(0,0,0,0)",
      },
      ...spec.tracks.map((t) => ({
        data: pairs(t), showLine: true, borderColor: spec.trackColor, backgroundColor: spec.trackColor,
        borderWidth: 0.8, pointRadius: 0, clip: 0,
      })),
    ];
    const chart = new Chart(ref.current as HTMLCanvasElement, {
      type: "scatter",
      data: { datasets },
      options: {
        responsive: false,
        animation: false,
        events: [],
        layout: {
          autoPadding: false,
          padding: row === 0 ? { top: 8, bottom: 2, left: 0, right: 0 } : { top: 2, bottom: 0, left: 0, right: 0 },
        },
        plugins: {
          legend: { display: false },
          tooltip: { enabled: false },
          colors: { enabled: false },
          frame: { yTicks },
        } as any,
        scales: {
          x: {
            type: "linear", min: X_MIN, max: X_MAX, display: row === 1,
            grid: { display: false, drawTicks: false }, border: { display: false },
            ticks: { color: "#000", font: { family: FONT, size: 14 }, padding: 3, maxRotation: 0, autoSkip: false },
            afterBuildTicks: (s: any) => { s.ticks = X_TICKS.map((v) => ({ value: v })); },
            afterFit: (s: any) => { s.height = row === 1 ? 53 : 0; s.paddingLeft = 0; s.paddingRight = 0; },
          },
          y: {
            type: "linear", min: row === 0 ? BH_MIN : ACC_MIN, max: row === 0 ? BH_MAX : ACC_MAX, display: col === 0,
            grid: { display: false, drawTicks: false }, border: { display: false },
            ticks: {
              color: "#000", font: { family: FONT, size: 14 }, padding: 5, autoSkip: false,
              callback: (v: any) => (row === 0 ? Number(v).toFixed(2) : String(v)),
            },
            afterBuildTicks: (s: any) => { s.ticks = yTicks.map((v) => ({ value: v })); },
            afterFit: (s: any) => { s.width = col === 0 ? COL_LEFT[0] : 0; s.paddingTop = 0; s.paddingBottom = 0; },
          },
        } as any,
      },
      plugins: row === 0 && col === 0 ? [framePlugin, legendPlugin] : [framePlugin],
    } as any);
    return () => chart.destroy();
  }, []);

  return (
    <canvas
      ref={ref}
      width={cw}
      height={ch}
      style={{ position: "absolute", left: cx, top: cy, width: cw, height: ch }}
    />
  );
}

const SUB: React.CSSProperties = { fontSize: "0.7em", verticalAlign: "-0.3em", lineHeight: 0 };
const LABEL: React.CSSProperties = {
  position: "absolute", fontFamily: FONT, fontSize: 20, whiteSpace: "nowrap", lineHeight: 1,
  color: "#000", transform: "translate(-50%, -50%)",
};

export default function App() {
  return (
    <div style={{ position: "absolute", left: 0, top: 0, width: 831, height: 554, background: "#fff", overflow: "hidden" }}>
      {SPECS.map((s, i) => (
        <Panel key={i} spec={s} />
      ))}
      <div style={{ ...LABEL, left: 17, top: 129, transform: "translate(-50%, -50%) rotate(-90deg)" }}>
        log(<i>M</i><sub style={SUB}><i>BH</i></sub> / <i>M</i><sub style={SUB}>⊙</sub>)
      </div>
      <div style={{ ...LABEL, left: 36, top: 380, transform: "translate(-50%, -50%) rotate(-90deg)" }}>
        log(<i>M</i><sub style={SUB}><i>acc</i></sub> / <i>M</i><sub style={SUB}>⊙</sub>)
      </div>
      <div style={{ ...LABEL, left: 437, top: 538 }}>
        log(<i>M</i><sub style={SUB}><i>star</i></sub> / <i>M</i><sub style={SUB}>⊙</sub>)
      </div>
    </div>
  );
}
